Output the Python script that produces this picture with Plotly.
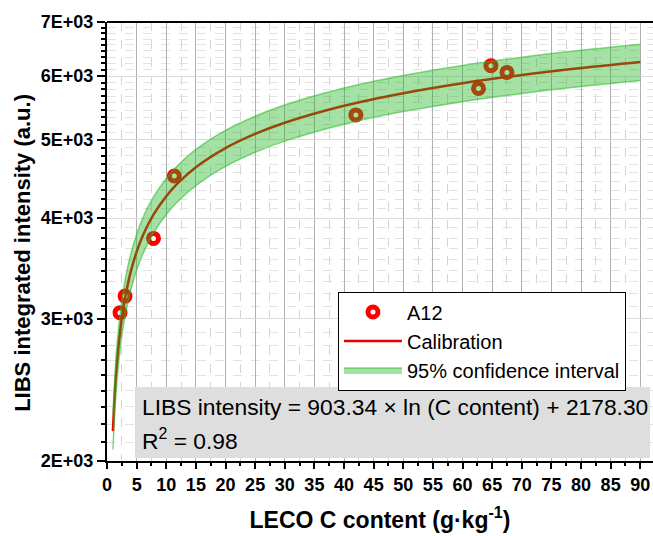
import numpy as np
import plotly.graph_objects as go

# Measured samples (A12)
leco_c = [2.2, 3.05, 7.85, 11.36, 42.0, 62.7, 64.8, 67.5]
libs_int = [3054, 3202, 3775, 4510, 5370, 5792, 6180, 6062]

# Calibration curve and 95% confidence band
curve_x = [1, 1.5, 2, 2.5, 3, 4, 5, 6, 7, 8, 10, 12, 15, 20, 25, 30, 40, 50, 60, 70, 80, 90]
curve_y = [2178, 2545, 2804, 3006, 3171, 3431, 3632, 3797, 3936, 4057, 4258, 4423, 4625,
           4884, 5086, 5251, 5511, 5712, 5877, 6016, 6137, 6243]
band_hi = [2291, 2677, 2950, 3162, 3336, 3609, 3821, 3994, 4141, 4268, 4479, 4653, 4866,
           5138, 5350, 5524, 5798, 6009, 6183, 6329, 6456, 6568]
band_lo = [2067, 2415, 2661, 2853, 3009, 3256, 3447, 3603, 3735, 3850, 4041, 4197, 4389,
           4635, 4827, 4983, 5230, 5421, 5577, 5709, 5824, 5925]

x_ticks = list(range(0, 95, 5))
y_ticks = [2000, 3000, 4000, 5000, 6000, 7000]
y_ticktext = ["2E+03", "3E+03", "4E+03", "5E+03", "6E+03", "7E+03"]
y_minor = [m + k * 1000 / 9 for m in y_ticks[:-1] for k in range(1, 9)]

FONT = "Liberation Sans, Arial, sans-serif"

fig = go.Figure()
fig.add_trace(go.Scatter(
    x=leco_c, y=libs_int, mode="markers", name="A12",
    marker=dict(symbol="circle-open", size=10, color="#ff0000", line=dict(width=5, color="#ff0000")),
))
fig.add_trace(go.Scatter(
    x=curve_x, y=curve_y, mode="lines", name="Calibration",
    line=dict(color="#e80000", width=2.5, shape="spline"),
))
fig.add_trace(go.Scatter(
    x=curve_x, y=band_lo, mode="lines", showlegend=False,
    line=dict(color="rgba(40,185,40,0.55)", width=1.5, shape="spline"),
))
fig.add_trace(go.Scatter(
    x=curve_x, y=band_hi, mode="lines", name="95% confidence interval",
    fill="tonexty", fillcolor="rgba(30,180,30,0.40)",
    line=dict(color="rgba(40,185,40,0.55)", width=1.5, shape="spline"),
))

fig.update_layout(
    width=653, height=536,
    margin=dict(l=107, r=0, t=22, b=75),
    plot_bgcolor="white", paper_bgcolor="white",
    font=dict(family=FONT, color="black"),
    showlegend=True,
    legend=dict(
        x=0.423, y=0.386, xanchor="left", yanchor="top",
        bgcolor="white", bordercolor="black", borderwidth=1,
        font=dict(size=20, family=FONT), itemwidth=58,
        tracegroupgap=0, traceorder="normal",
    ),
    xaxis=dict(
        range=[0, 92.15], tickmode="array", tickvals=x_ticks,
        ticks="outside", ticklen=6, tickwidth=1.5, tickcolor="black",
        showline=True, linewidth=2, linecolor="black", zeroline=False,
        showgrid=True, gridcolor="#b0b0b0", gridwidth=1,
        minor=dict(dtick=2.5, tick0=0, ticks="outside", ticklen=3, tickwidth=1.5, tickcolor="black",
                   showgrid=True, gridcolor="#d4d4d4", griddash="dash", gridwidth=1),
        tickfont=dict(size=18, family=FONT, weight="bold"),
        title=dict(text="LECO C content (g·kg<sup>-1</sup>)",
                   font=dict(size=23, family=FONT, weight="bold"), standoff=18),
    ),
    yaxis=dict(
        type="log", range=[np.log10(2000), np.log10(7000)],
        tickmode="array", tickvals=y_ticks, ticktext=y_ticktext,
        ticks="outside", ticklen=8, tickwidth=2, tickcolor="black",
        showline=True, linewidth=2, linecolor="black", zeroline=False,
        showgrid=True, gridcolor="#dcdcdc", gridwidth=1,
        minor=dict(tickmode="array", tickvals=y_minor, ticks="outside", ticklen=4, tickwidth=2,
                   tickcolor="black", showgrid=True, gridcolor="#e2e2e2", griddash="dash", gridwidth=1),
        tickfont=dict(size=18, family=FONT, weight="bold"),
    ),
    shapes=[
        dict(type="line", xref="paper", yref="paper", x0=0, x1=1, y0=1, y1=1,
             line=dict(color="black", width=2)),
        dict(type="rect", xref="paper", yref="paper", x0=0.0513, x1=0.9945, y0=0.0068, y1=0.1686,
             fillcolor="#dedede", line=dict(width=0), layer="above"),
    ],
    annotations=[
        dict(xref="paper", yref="paper", x=-0.154, y=0.474, xanchor="center", yanchor="middle",
             text="LIBS integrated intensity (a.u.)", textangle=-90, showarrow=False,
             font=dict(size=22, family=FONT, color="black", weight="bold")),
        dict(xref="paper", yref="paper", x=0.060, y=0.123, xanchor="left", yanchor="middle",
             text="LIBS intensity = 903.34 × ln (C content) + 2178.30", showarrow=False,
             font=dict(size=22.8, family=FONT, color="black")),
        dict(xref="paper", yref="paper", x=0.060, y=0.048, xanchor="left", yanchor="middle",
             text="R<sup>2</sup> = 0.98", showarrow=False,
             font=dict(size=22.8, family=FONT, color="black")),
    ],
)

fig.write_html("out.html")
